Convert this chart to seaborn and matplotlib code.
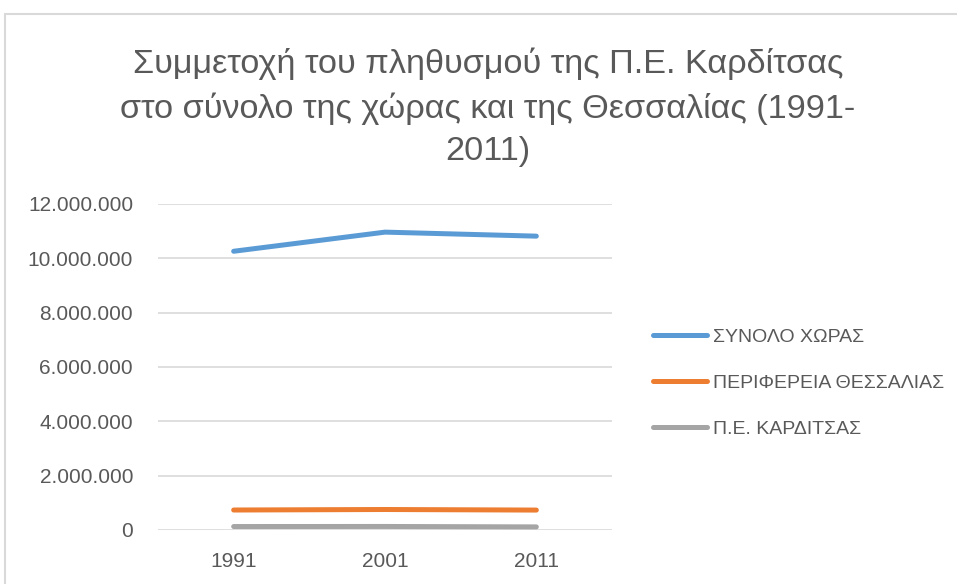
import matplotlib
matplotlib.use("Agg")
import matplotlib.pyplot as plt
import matplotlib.ticker as mticker
from matplotlib.patches import Rectangle
import pandas as pd
import seaborn as sns

# data (census population)
years = ['1991', '2001', '2011']
series_names = ['ΣΥΝΟΛΟ ΧΩΡΑΣ', 'ΠΕΡΙΦΕΡΕΙΑ ΘΕΣΣΑΛΙΑΣ', 'Π.Ε. ΚΑΡΔΙΤΣΑΣ']
greece = [10259900, 10964020, 10816286]
thessaly = [734846, 753888, 732762]
karditsa = [126854, 129541, 113544]
y_ticks = [0, 2000000, 4000000, 6000000, 8000000, 10000000, 12000000]

colors = ['#5B9BD5', '#ED7D31', '#A5A5A5']
text_col = '#595959'

df = pd.DataFrame({
    'year': years * 3,
    'series': [series_names[0]] * 3 + [series_names[1]] * 3 + [series_names[2]] * 3,
    'value': greece + thessaly + karditsa,
})

sns.set_style("white")
plt.rcParams['font.family'] = ['Liberation Sans', 'DejaVu Sans']

fig = plt.figure(figsize=(9.57, 5.84), dpi=100)
ax = fig.add_axes([0.1651, 0.0925, 0.4744, 0.5582])

sns.lineplot(data=df, x='year', y='value', hue='series', hue_order=series_names,
             palette=colors, linewidth=3.6, solid_capstyle='round', ax=ax,
             sort=False)

ax.set_xlim(-0.5, 2.5)
ax.set_ylim(0, 12000000)
ax.set_yticks(y_ticks)
ax.yaxis.set_major_formatter(mticker.FuncFormatter(lambda v, p: f"{int(v):,}".replace(',', '.')))
ax.grid(axis='y', color='#D9D9D9', linewidth=1.2)
ax.set_axisbelow(True)
for s in ax.spines.values():
    s.set_visible(False)
ax.tick_params(axis='both', length=0, labelsize=15, colors=text_col)
ax.tick_params(axis='y', pad=18)
ax.tick_params(axis='x', pad=16)
ax.set_xlabel('')
ax.set_ylabel('')

leg = ax.legend(loc='center left', bbox_to_anchor=(0.672, 0.344),
                bbox_transform=fig.transFigure, frameon=False, fontsize=14,
                handlelength=2.8, handletextpad=0.3, labelspacing=1.45,
                borderpad=0)
for t in leg.get_texts():
    t.set_color(text_col)
for h in leg.get_lines():
    h.set_linewidth(3.6)
    h.set_solid_capstyle('round')

fig.text(0.51, 0.816,
         'Συμμετοχή του πληθυσμού της Π.Ε. Καρδίτσας\nστο σύνολο της χώρας και της Θεσσαλίας (1991-\n2011)',
         ha='center', va='center', fontsize=24.7, color=text_col,
         linespacing=1.47)

# chart area border
fig.patches.append(Rectangle((5 / 957, -0.1), 1.1, 1 - 14 / 584 + 0.1,
                             transform=fig.transFigure, fill=False,
                             edgecolor='#D9D9D9', linewidth=1.5, zorder=0))

fig.savefig('out.png', dpi=100)
